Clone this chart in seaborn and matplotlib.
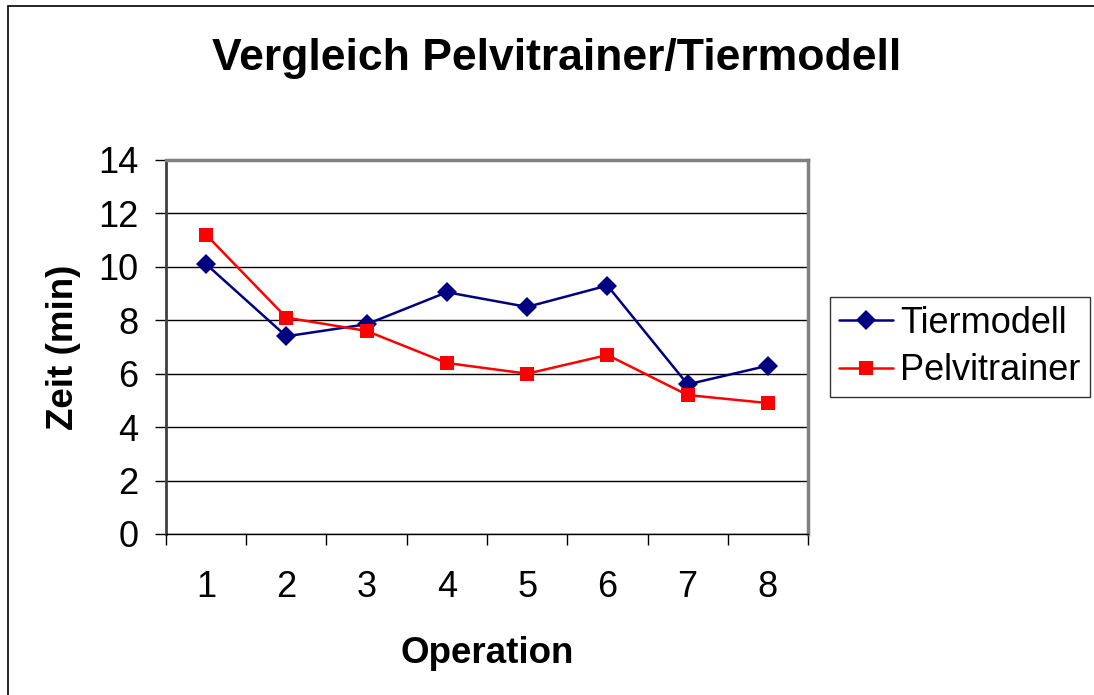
import pandas as pd
import matplotlib.pyplot as plt
import numpy as np
import seaborn as sns
from matplotlib.ticker import FixedLocator

# Daten
operation = [1, 2, 3, 4, 5, 6, 7, 8]
tiermodell = [10.1, 7.4, 7.85, 9.05, 8.5, 9.3, 5.6, 6.3]
pelvitrainer = [11.2, 8.1, 7.6, 6.4, 6.0, 6.7, 5.2, 4.9]
y_ticks = [0, 2, 4, 6, 8, 10, 12, 14]

df = pd.DataFrame({'Operation': operation * 2,
                   'Zeit': tiermodell + pelvitrainer,
                   'Serie': ['Tiermodell'] * 8 + ['Pelvitrainer'] * 8})

sns.set_style('white')
plt.rcParams['font.family'] = ['Liberation Sans', 'DejaVu Sans']
plt.rcParams.update({'text.color': 'black', 'axes.labelcolor': 'black',
                     'xtick.color': 'black', 'ytick.color': 'black'})

fig = plt.figure(figsize=(10.94, 6.95), dpi=100)
ax = fig.add_axes([0.1517, 0.2317, 0.5869, 0.5381])

sns.lineplot(data=df[df['Serie'] == 'Tiermodell'], x='Operation', y='Zeit',
             color='#000080', marker='D', markersize=10, markeredgewidth=0,
             linewidth=1.8, label='Tiermodell', ax=ax)
sns.lineplot(data=df[df['Serie'] == 'Pelvitrainer'], x='Operation', y='Zeit',
             color='#FF0000', marker='s', markersize=10, markeredgewidth=0,
             linewidth=1.8, label='Pelvitrainer', ax=ax)

ax.set_xlim(0.5, 8.5)
ax.set_ylim(0, 14)
ax.set_yticks(y_ticks)
ax.set_xticks(operation)
ax.xaxis.set_minor_locator(FixedLocator(np.arange(0.5, 9, 1)))
ax.tick_params(axis='x', which='major', bottom=True, length=0, labelsize=26, pad=26)
ax.tick_params(axis='x', which='minor', bottom=True, length=8, width=1, color='black', direction='out')
ax.tick_params(axis='y', left=True, length=8, width=1, color='black', direction='out', labelsize=26, pad=12)
ax.yaxis.grid(True, color='black', linewidth=1)
ax.set_axisbelow(True)

for s in ['top', 'right']:
    ax.spines[s].set_color('#808080')
    ax.spines[s].set_linewidth(2.5)
ax.spines['left'].set_color('#404040')
ax.spines['left'].set_linewidth(2)
ax.spines['bottom'].set_color('black')
ax.spines['bottom'].set_linewidth(1)

ax.set_xlabel('Operation', fontsize=26.5, fontweight='bold', labelpad=22)
ax.set_ylabel('Zeit (min)', fontsize=26.5, fontweight='bold', labelpad=12)
fig.suptitle('Vergleich Pelvitrainer/Tiermodell', fontsize=32, fontweight='bold',
             x=0.509, y=0.945)

leg = ax.legend(loc='center left', bbox_to_anchor=(1.034, 0.5), fontsize=26,
                frameon=True, fancybox=False, edgecolor='black',
                handlelength=1.5, handletextpad=0.2, borderpad=0.25,
                labelspacing=0.35, borderaxespad=0)
leg.get_frame().set_linewidth(1)

# Rahmen des Diagrammbereichs
fig.patches.append(plt.Rectangle((0.0075, -0.1), 1.1, 1.092, transform=fig.transFigure,
                                 fill=False, edgecolor='black', linewidth=1.2))

fig.savefig('out.png', dpi=100)
